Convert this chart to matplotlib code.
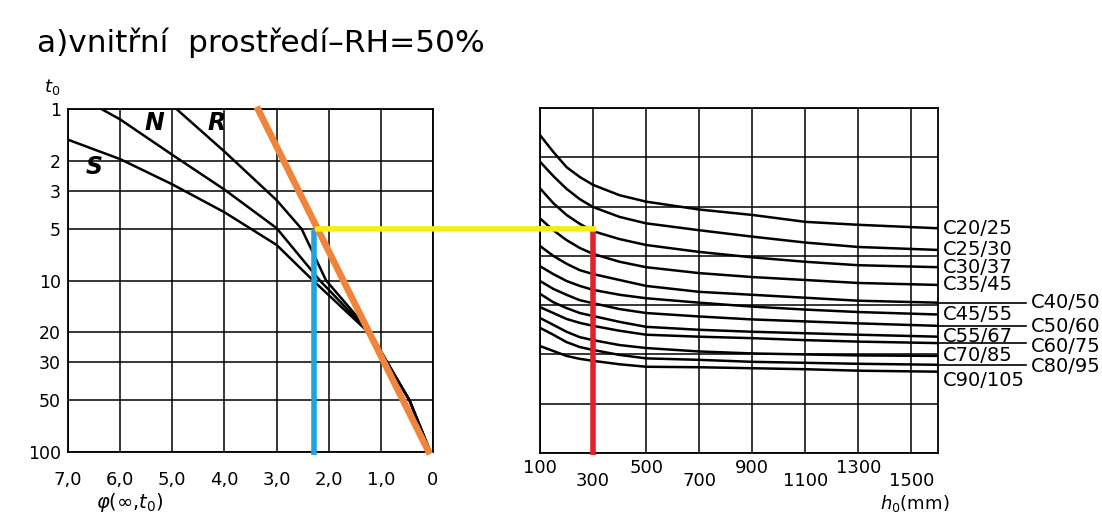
import matplotlib
matplotlib.use("Agg")
import matplotlib.pyplot as plt
from matplotlib.patches import ConnectionPatch
from matplotlib.lines import Line2D
from matplotlib.transforms import blended_transform_factory
from matplotlib.ticker import FixedLocator, NullLocator

# ---------------- data ----------------
phi_ticks = [7, 6, 5, 4, 3, 2, 1, 0]
phi_labels = ["7,0", "6,0", "5,0", "4,0", "3,0", "2,0", "1,0", "0"]
t0_ticks = [1, 2, 3, 5, 10, 20, 30, 50, 100]
t0_labels = ["1", "2", "3", "5", "10", "20", "30", "50", "100"]

# cement class curves (phi, t0)
S_phi = [7.0, 6.0, 5.0, 4.0, 3.0, 2.3, 1.24, 0.88, 0.45, 0.05]
S_t0 = [1.51, 1.96, 2.75, 4.0, 6.2, 10, 20, 30, 50, 100]
N_phi = [6.36, 6.0, 5.0, 4.0, 3.0, 2.17, 1.22, 0.88, 0.45, 0.05]
N_t0 = [1.0, 1.15, 1.85, 2.95, 4.95, 10, 20, 30, 50, 100]
R_phi = [4.92, 4.0, 3.0, 2.52, 2.05, 1.20, 0.88, 0.45, 0.05]
R_t0 = [1.0, 1.77, 3.4, 5.0, 10, 20, 30, 50, 100]

# construction lines
orange_phi = [3.38, 0.06]
orange_t0 = [0.97, 103]
blue_phi = 2.28
blue_t0 = [5, 104]
yellow_phi_start = 2.26
t0_read = 5
h0_read = 300

# right panel
h0_ticks_up = [100, 500, 900, 1300]
h0_ticks_low = [300, 700, 1100, 1500]
h0 = [100, 150, 200, 250, 300, 400, 500, 700, 900, 1100, 1300, 1600]
class_names = ["C20/25", "C25/30", "C30/37", "C35/45", "C40/50", "C45/55",
               "C50/60", "C55/67", "C60/75", "C70/85", "C80/95", "C90/105"]
C20 = [0.55, 0.89, 1.20, 1.40, 1.56, 1.77, 1.90, 2.06, 2.17, 2.31, 2.37, 2.44]
C25 = [1.09, 1.38, 1.64, 1.85, 2.01, 2.21, 2.34, 2.48, 2.61, 2.73, 2.82, 2.88]
C30 = [1.63, 1.93, 2.17, 2.35, 2.50, 2.66, 2.78, 2.92, 3.03, 3.12, 3.19, 3.23]
C35 = [2.24, 2.48, 2.68, 2.84, 2.96, 3.12, 3.23, 3.35, 3.43, 3.49, 3.55, 3.59]
C40 = [2.80, 3.00, 3.16, 3.29, 3.37, 3.49, 3.61, 3.73, 3.79, 3.85, 3.91, 3.95]
C45 = [3.21, 3.37, 3.51, 3.61, 3.69, 3.79, 3.86, 3.95, 4.03, 4.09, 4.14, 4.19]
C50 = [3.51, 3.67, 3.79, 3.90, 3.96, 4.08, 4.16, 4.23, 4.29, 4.33, 4.37, 4.42]
C55 = [3.77, 3.94, 4.06, 4.16, 4.22, 4.34, 4.44, 4.50, 4.54, 4.57, 4.60, 4.64]
C60 = [4.04, 4.16, 4.28, 4.36, 4.42, 4.52, 4.60, 4.64, 4.67, 4.71, 4.74, 4.77]
C70 = [4.26, 4.40, 4.54, 4.65, 4.71, 4.81, 4.87, 4.94, 4.98, 5.00, 5.02, 5.03]
C80 = [4.46, 4.60, 4.75, 4.85, 4.91, 5.01, 5.08, 5.11, 5.15, 5.17, 5.19, 5.21]
C90 = [4.83, 4.93, 5.03, 5.09, 5.13, 5.20, 5.25, 5.26, 5.28, 5.30, 5.33, 5.35]
class_curves = [C20, C25, C30, C35, C40, C45, C50, C55, C60, C70, C80, C90]
leader_classes = ["C40/50", "C50/60", "C60/75", "C80/95"]

# ---------------- style / layout ----------------
W, H = 1102, 514
plt.rcParams["font.family"] = ["DejaVu Sans"]
fig = plt.figure(figsize=(W / 100, H / 100), dpi=100)
fig.patch.set_facecolor("white")

def fx(px):
    return px / W

def fy(py):
    return 1 - py / H

GRID_LW = 1.1
CURVE_LW = 1.8
ORANGE = "#f0843a"
BLUE = "#22a3de"
YELLOW = "#f5ef10"
RED = "#e3202b"

ax1 = fig.add_axes([fx(68), fy(452), fx(433) - fx(68), fy(109) - fy(452)])
ax2 = fig.add_axes([fx(540), fy(453), fx(938) - fx(540), fy(108) - fy(453)])

# ---- left panel ----
ax1.set_yscale("log")
ax1.set_xlim(7, 0)
ax1.set_ylim(100, 1)
ax1.xaxis.set_major_locator(FixedLocator(phi_ticks))
ax1.set_xticklabels(phi_labels)
ax1.yaxis.set_major_locator(FixedLocator(t0_ticks))
ax1.yaxis.set_minor_locator(NullLocator())
ax1.set_yticklabels(t0_labels)
ax1.tick_params(axis="x", length=0, pad=14, labelsize=13)
ax1.tick_params(axis="y", length=0, pad=5, labelsize=12.5)
ax1.grid(True, color="black", lw=GRID_LW)
for sp in ax1.spines.values():
    sp.set_linewidth(GRID_LW + 0.2)

for px_, pt_ in [(S_phi, S_t0), (N_phi, N_t0), (R_phi, R_t0)]:
    ax1.plot(px_, pt_, color="black", lw=CURVE_LW, zorder=3,
             solid_joinstyle="round")

for name, (xp, yp) in {"S": (6.49, 2.18), "N": (5.34, 1.21), "R": (4.15, 1.21)}.items():
    ax1.text(xp, yp, name, fontsize=17, style="italic", fontweight="bold",
             ha="center", va="center", zorder=4)

ax1.plot(orange_phi, orange_t0, color=ORANGE, lw=4.8, zorder=5,
         clip_on=False, solid_capstyle="butt")
ax1.plot([blue_phi, blue_phi], blue_t0, color=BLUE, lw=4, zorder=4,
         clip_on=False, solid_capstyle="butt")

# ---- right panel ----
ax2.set_xlim(100, 1600)
ax2.set_ylim(7, 0)
ax2.xaxis.set_major_locator(FixedLocator(h0_ticks_up))
ax2.xaxis.set_minor_locator(FixedLocator(h0_ticks_low))
ax2.set_xticklabels([str(v) for v in h0_ticks_up])
ax2.set_xticklabels([str(v) for v in h0_ticks_low], minor=True)
ax2.yaxis.set_major_locator(FixedLocator(range(0, 8)))
ax2.set_yticklabels([])
ax2.tick_params(axis="x", which="major", length=0, pad=4, labelsize=13)
ax2.tick_params(axis="x", which="minor", length=0, pad=14, labelsize=13)
ax2.tick_params(axis="y", length=0)
ax2.grid(True, which="both", axis="x", color="black", lw=GRID_LW)
ax2.grid(True, which="major", axis="y", color="black", lw=GRID_LW)
for sp in ax2.spines.values():
    sp.set_linewidth(GRID_LW + 0.2)

right_offsets = {"C40/50": 0.0, "C50/60": 0.02, "C60/75": 0.07, "C80/95": 0.03}
for name, vals in zip(class_names, class_curves):
    ax2.plot(h0, vals, color="black", lw=CURVE_LW, zorder=3,
             solid_joinstyle="round")
    end = vals[-1]
    if name in leader_classes:
        ax2.plot([h0[-1], 1930], [end, end], color="black", lw=1.2,
                 clip_on=False, zorder=3)
        ax2.text(1950, end + right_offsets[name], name, fontsize=14,
                 ha="left", va="center", clip_on=False)
    else:
        off = 0.17 if name == "C90/105" else 0.0
        ax2.text(1620, end + off, name, fontsize=14, ha="left", va="center",
                 clip_on=False)

# red vertical: x in right-panel data, y in left-panel t0 data
mix = blended_transform_factory(ax2.transData, ax1.transData)
red = Line2D([h0_read, h0_read], [t0_read, 104], transform=mix, color=RED,
             lw=4, zorder=6, clip_on=False, solid_capstyle="butt")
ax2.add_line(red)

# yellow horizontal from left panel to right panel
con = ConnectionPatch(xyA=(yellow_phi_start, t0_read), coordsA=ax1.transData,
                      xyB=(h0_read + 12, t0_read), coordsB=mix,
                      color=YELLOW, lw=4, zorder=7, capstyle="butt")
fig.add_artist(con)

# ---- texts ----
fig.text(fx(37), fy(43), "a)vnitřní  prostředí–RH=50%", fontsize=22.5,
         ha="left", va="center")
fig.text(fx(52), fy(87), r"$t_0$", fontsize=13, ha="center", va="center")
fig.text(fx(130), fy(503), r"$\varphi$(∞,$t_0$)", fontsize=14,
         ha="center", va="center")
fig.text(fx(915), fy(503), r"$h_0$(mm)", fontsize=13, ha="center", va="center")

fig.savefig("out.png", dpi=100, facecolor="white")
